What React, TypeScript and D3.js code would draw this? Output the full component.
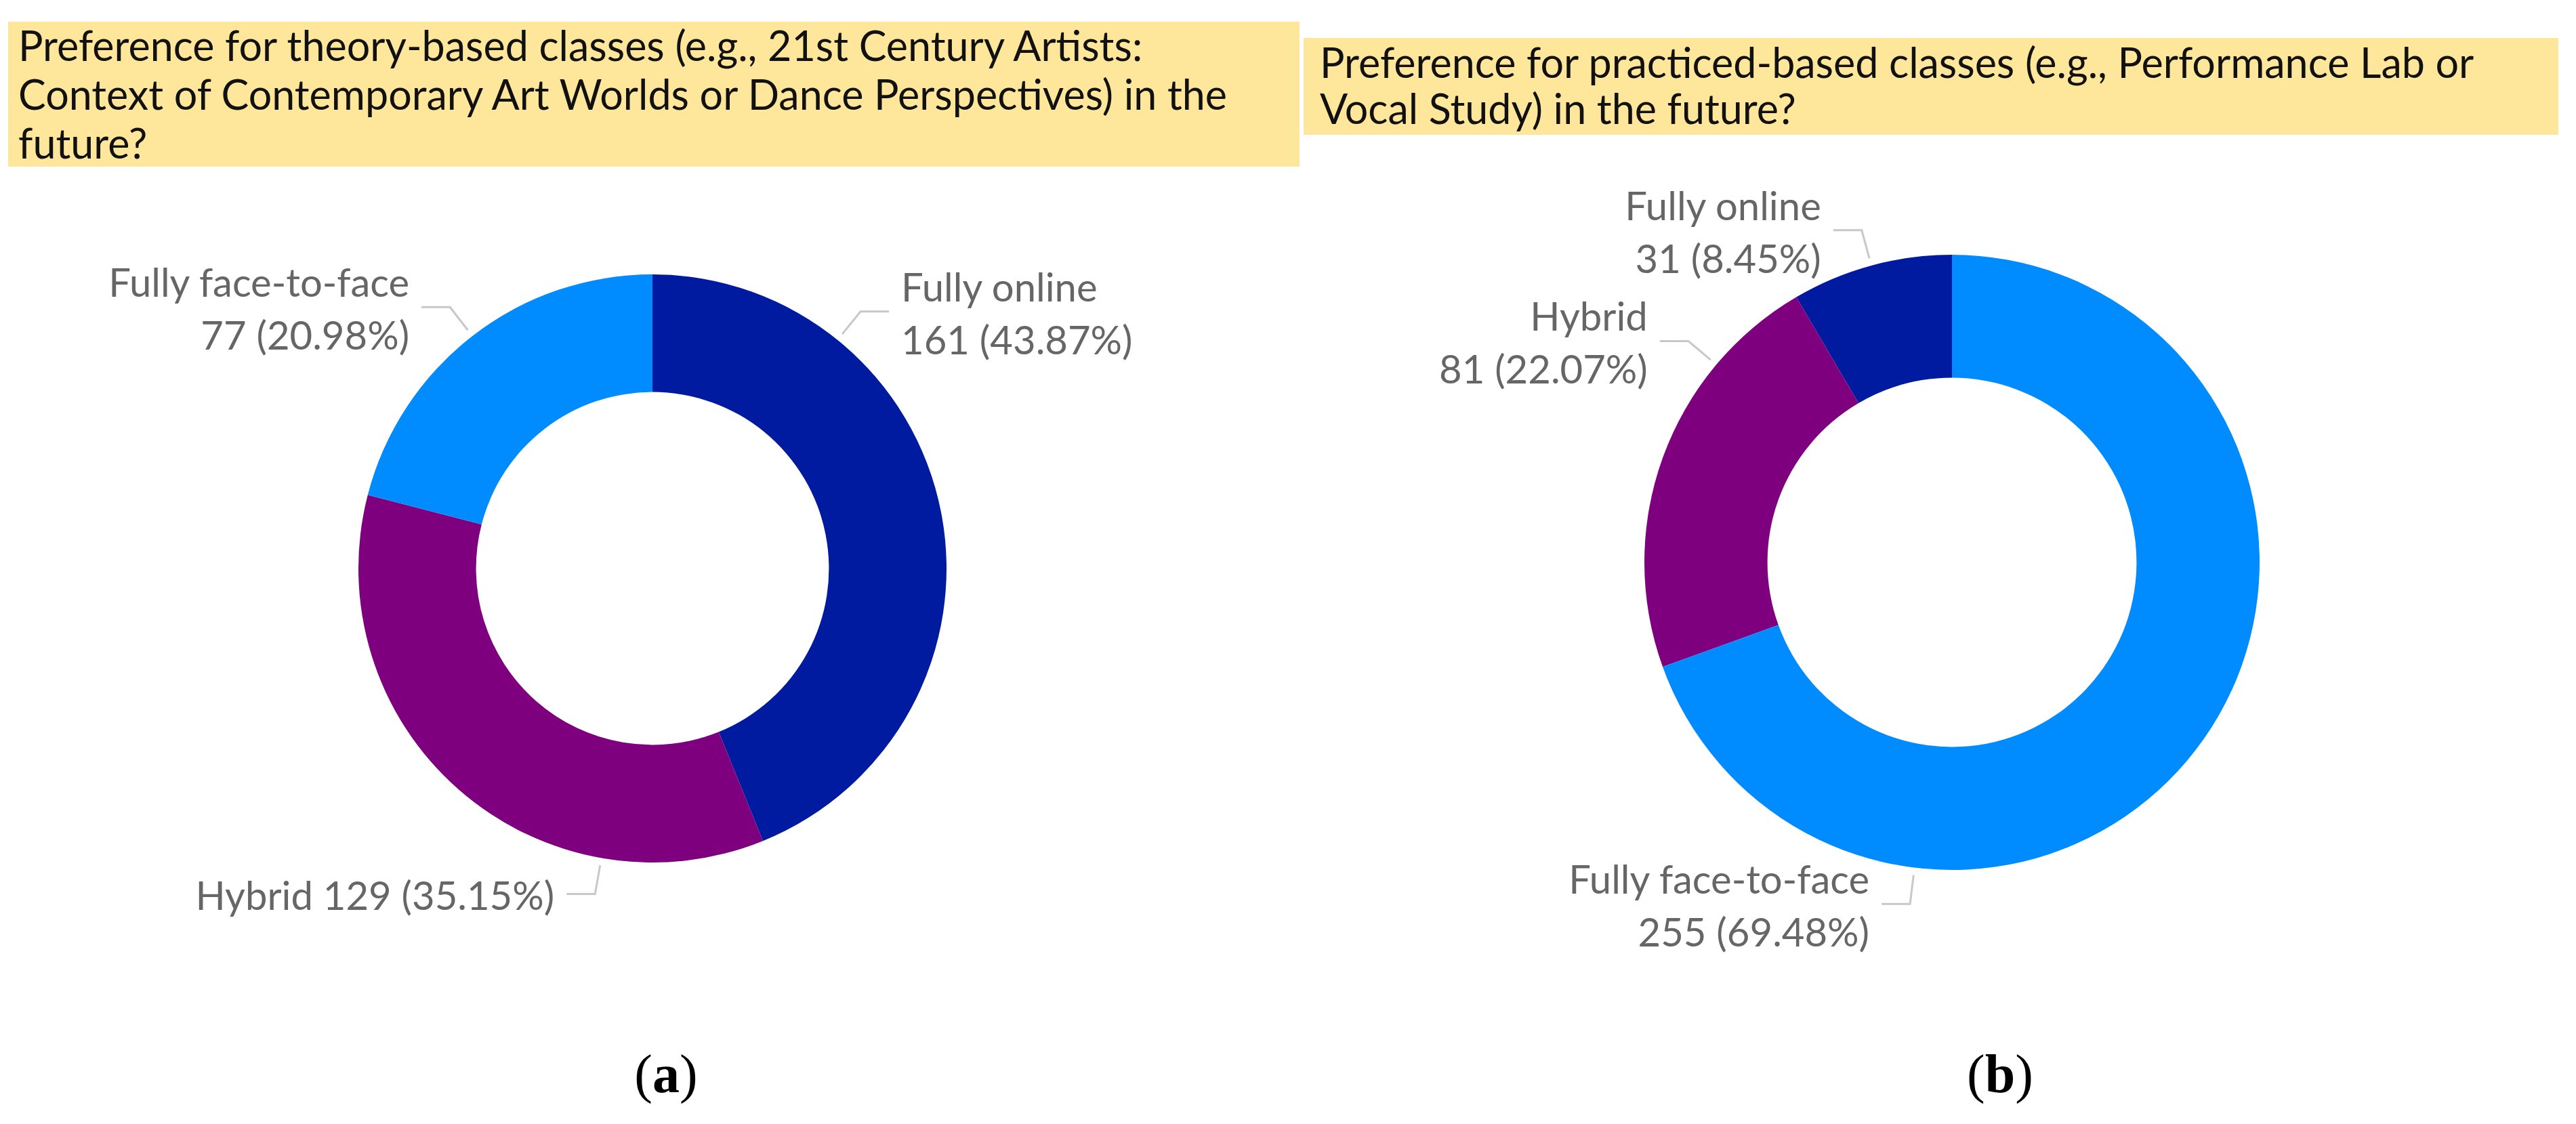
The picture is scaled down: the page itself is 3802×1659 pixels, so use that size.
import React from 'react';
import * as d3 from 'd3';

const categories = ['Fully online', 'Hybrid', 'Fully face-to-face'];
const theoryCounts = [161, 129, 77];
const practiceCounts = [31, 81, 255];
const theoryTitle = [
  'Preference for theory-based classes (e.g., 21st Century Artists:',
  'Context of Contemporary Art Worlds or Dance Perspectives) in the',
  'future?',
];
const practiceTitle = [
  'Preference for practiced-based classes (e.g., Performance Lab or',
  'Vocal Study) in the future?',
];
const captions = ['a', 'b'];

const W = 3802;
const H = 1659;
const FONT = 'Lato, "Open Sans", sans-serif';

const colors = d3.scaleOrdinal<string, string>()
  .domain(categories)
  .range(['#001BA0', '#7F007F', '#008CFF']);

const panels = [
  {
    title: theoryTitle, counts: theoryCounts, caption: captions[0],
    cx: 963, cy: 839, R: 434,
    box: { x: 12, y: 32, w: 1906, h: 214 }, titleX: 27, titleY: 90, lineH: 72,
    capX: 983,
    // Power BI nudges some labels away from the slice middle
    labelAngles: { 'Fully online': 39, 'Hybrid': 190 } as Record<string, number>,
    singleLine: ['Hybrid'],
  },
  {
    title: practiceTitle, counts: practiceCounts, caption: captions[1],
    cx: 2881, cy: 830, R: 454,
    box: { x: 1924, y: 56, w: 1852, h: 143 }, titleX: 1948, titleY: 115, lineH: 68,
    capX: 2952,
    labelAngles: { 'Hybrid': 310, 'Fully face-to-face': 187 } as Record<string, number>,
    singleLine: [] as string[],
  },
];

type Slice = { name: string; count: number };

const Donut = ({ p }: { p: typeof panels[number] }) => {
  const slices: Slice[] = categories.map((name, i) => ({ name, count: p.counts[i] }));
  const total = d3.sum(slices, d => d.count);
  const pie = d3.pie<Slice>().value(d => d.count);
  const arc = d3.arc<d3.PieArcDatum<Slice>>().innerRadius(p.R * 0.6).outerRadius(p.R);
  const arcs = pie(slices);

  return (
    <g>
      <g transform={`translate(${p.cx},${p.cy})`}>
        {arcs.map(a => (
          <path key={a.data.name} d={arc(a) || ''} fill={colors(a.data.name)} />
        ))}
      </g>
      {arcs.map(a => {
        const deg = p.labelAngles[a.data.name] ?? ((a.startAngle + a.endAngle) / 2) * 180 / Math.PI;
        const ang = deg * Math.PI / 180;
        const pt = (r: number) => [p.cx + r * Math.sin(ang), p.cy - r * Math.cos(ang)];
        const [x0, y0] = pt(p.R + 11);
        const [x1, y1] = pt(p.R + 54);
        const left = x1 < p.cx;
        const x2 = left ? x1 - 42 : x1 + 42;
        const tx = left ? x2 - 18 : x2 + 18;
        const pct = d3.format('.2%')(a.data.count / total);
        const valueText = `${a.data.count} (${pct})`;
        const single = p.singleLine.includes(a.data.name);
        return (
          <g key={'l' + a.data.name}>
            <polyline points={`${x0},${y0} ${x1},${y1} ${x2},${y1}`} fill="none" stroke="#C8C8C8" strokeWidth={3} />
            <text fontFamily={FONT} fontSize={58} fill="#666666" textAnchor={left ? 'end' : 'start'}>
              {single ? (
                <tspan x={tx} y={y1 + 23}>{`${a.data.name} ${valueText}`}</tspan>
              ) : (
                <>
                  <tspan x={tx} y={y1 - 15}>{a.data.name}</tspan>
                  <tspan x={tx} y={y1 + 63}>{valueText}</tspan>
                </>
              )}
            </text>
          </g>
        );
      })}
      <rect x={p.box.x} y={p.box.y} width={p.box.w} height={p.box.h} fill="#FEE69B" />
      <text fontFamily={FONT} fontSize={61} fill="#111">
        {p.title.map((line, i) => (
          <tspan key={i} x={p.titleX} y={p.titleY + i * p.lineH}>{line}</tspan>
        ))}
      </text>
      <text x={p.capX} y={1612} textAnchor="middle" fontFamily='"Liberation Serif", "Times New Roman", serif' fontSize={80} fill="#000">
        (<tspan fontWeight="bold">{p.caption}</tspan>)
      </text>
    </g>
  );
};

export default function App() {
  return (
    <svg width={W} height={H} style={{ position: 'absolute', left: 0, top: 0, background: '#fff' }}>
      <rect width={W} height={H} fill="#fff" />
      {panels.map((p, i) => <Donut key={i} p={p} />)}
    </svg>
  );
}
